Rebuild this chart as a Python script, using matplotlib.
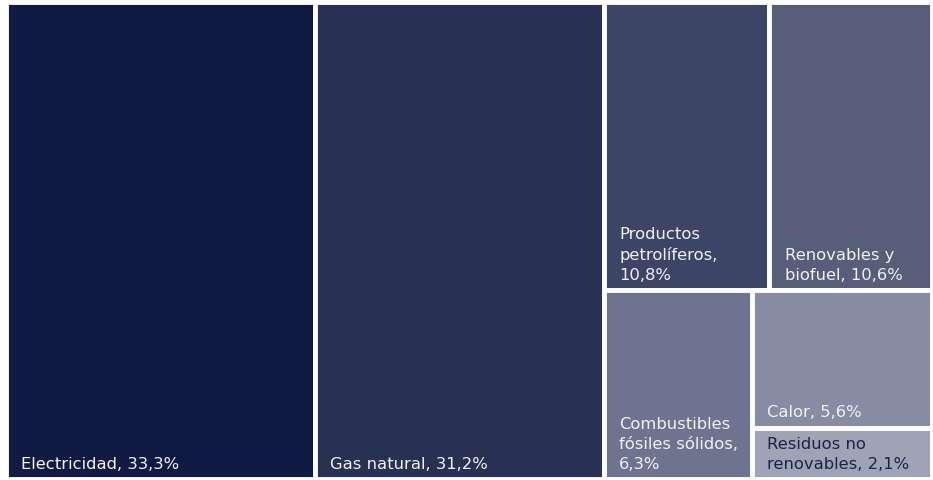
import matplotlib
matplotlib.use('Agg')
import matplotlib.pyplot as plt
from matplotlib.patches import Rectangle

# data
names = ['Electricidad', 'Gas natural', 'Productos\npetrolíferos,\n', 'Renovables y\nbiofuel',
         'Combustibles\nfósiles sólidos,\n', 'Calor', 'Residuos no\nrenovables']
shares = [33.3, 31.2, 10.8, 10.6, 6.3, 5.6, 2.1]
colors = ['#111a42', '#283053', '#3d4566', '#575e7a', '#6e7390', '#888ca3', '#a0a3b6']
text_colors = ['#f2f2f2'] * 6 + ['#1b2249']

W, H = 926.0, 477.0


def worst(row, side):
    s = sum(row)
    return max(max(side * side * r / (s * s), s * s / (side * side * r)) for r in row)


def layout_row(row, x, y, w, h):
    # place a row along the shorter side, return rects and remaining space
    s = sum(row)
    rects = []
    if w >= h:
        cw = s / h
        yy = y
        for r in row:
            rh = r / cw
            rects.append((x, yy, cw, rh))
            yy += rh
        return rects, (x + cw, y, w - cw, h)
    else:
        rh = s / w
        xx = x
        for r in row:
            rw = r / rh
            rects.append((xx, y + h - rh, rw, rh))
            xx += rw
        return rects, (x, y, w, h - rh)


def squarify(areas, x, y, w, h):
    rects = []
    areas = list(areas)
    while areas:
        side = min(w, h)
        row = [areas.pop(0)]
        while areas and worst(row + [areas[0]], side) <= worst(row, side):
            row.append(areas.pop(0))
        r, (x, y, w, h) = layout_row(row, x, y, w, h)
        rects += r
    return rects


total = sum(shares)
areas = [v / total * W * H for v in shares]
rects = squarify(areas, 0, 0, W, H)

fig = plt.figure(figsize=(9.33, 4.81), dpi=100)
ax = fig.add_axes([6 / 933, 1 / 481, W / 933, H / 481])
ax.set_xlim(0, W)
ax.set_ylim(0, H)
ax.axis('off')

for (x, y, w, h), name, v, c, tc in zip(rects, names, shares, colors, text_colors):
    ax.add_patch(Rectangle((x, y), w, h, facecolor=c, edgecolor='white', linewidth=3.5))
    sep = '' if name.endswith('\n') else ', '
    label = f"{name}{sep}{v:.1f}%".replace('.', ',')
    ax.annotate(label, (x, y), xytext=(11, 6), textcoords='offset points',
                ha='left', va='bottom', color=tc, fontsize=11.8, linespacing=1.4,
                family='DejaVu Sans')

fig.savefig('out.png', dpi=100, facecolor='white')
